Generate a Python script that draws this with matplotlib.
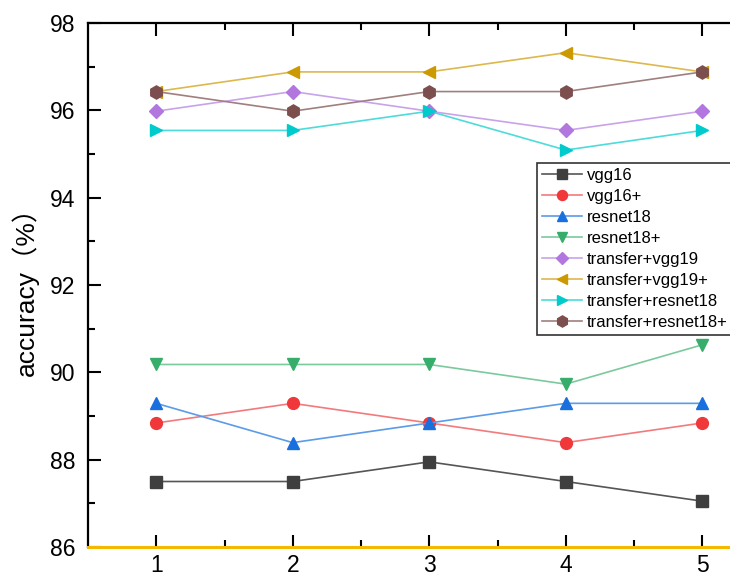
import numpy as np
import matplotlib
matplotlib.use("Agg")
import matplotlib.pyplot as plt

plt.rcParams['font.family'] = ['Liberation Sans', 'Noto Sans CJK SC', 'DejaVu Sans']

epochs = [1, 2, 3, 4, 5]
vgg16 = [87.50, 87.50, 87.95, 87.50, 87.05]
vgg16_plus = [88.84, 89.29, 88.84, 88.39, 88.84]
resnet18 = [89.29, 88.39, 88.84, 89.29, 89.29]
resnet18_plus = [90.18, 90.18, 90.18, 89.73, 90.63]
tr_vgg19 = [95.98, 96.43, 95.98, 95.54, 95.98]
tr_vgg19_plus = [96.43, 96.88, 96.88, 97.32, 96.88]
tr_resnet18 = [95.54, 95.54, 95.98, 95.09, 95.54]
tr_resnet18_plus = [96.43, 95.98, 96.43, 96.43, 96.88]

series = [
    ('vgg16', vgg16, 's', '#3f3f3f', '#555555'),
    ('vgg16+', vgg16_plus, 'o', '#f0373a', '#f27a7c'),
    ('resnet18', resnet18, '^', '#1a6fdf', '#5b9be8'),
    ('resnet18+', resnet18_plus, 'v', '#37ad6b', '#7cc99d'),
    ('transfer+vgg19', tr_vgg19, 'D', '#b177de', '#c9a3ea'),
    ('transfer+vgg19+', tr_vgg19_plus, '<', '#cc9900', '#ddb84d'),
    ('transfer+resnet18', tr_resnet18, '>', '#00cbcc', '#4ddbdb'),
    ('transfer+resnet18+', tr_resnet18_plus, 'h', '#7d4e4e', '#a07f7f'),
]
sizes = {'s': 8, 'o': 8.5, '^': 9, 'v': 9, 'D': 7.5, '<': 9, '>': 9, 'h': 9.5}

fig = plt.figure(figsize=(7.3, 5.76), dpi=100)
ax = fig.add_axes([88 / 730, 29 / 576, 682.5 / 730, 524 / 576])

for name, vals, mk, mc, lc in series:
    ax.plot(epochs, vals, color=lc, lw=1.2, marker=mk, ms=sizes[mk],
            markerfacecolor=mc, markeredgecolor=mc, label=name)

ax.set_xlim(0.5, 5.5)
ax.set_ylim(86, 98)
ax.set_xticks(epochs)
ax.set_xticks([1.5, 2.5, 3.5, 4.5], minor=True)
ax.set_yticks(np.arange(86, 99, 2))
ax.set_yticks(np.arange(87, 98, 2), minor=True)
ax.tick_params(which='major', direction='in', length=9, width=1.5, labelsize=16.5,
               top=True, right=False)
ax.tick_params(which='minor', direction='in', length=5, width=1.5, top=True, right=False)
ax.tick_params(axis='x', pad=5)
ax.tick_params(axis='y', pad=9)
# bottom ticks sit on the orange axis line
for t in ax.xaxis.get_major_ticks() + ax.xaxis.get_minor_ticks():
    t.tick1line.set_color('#6b5200')

ax.spines['right'].set_visible(False)
ax.spines['left'].set_linewidth(1.6)
ax.spines['top'].set_linewidth(1.6)
ax.spines['bottom'].set_linewidth(2.2)
ax.spines['bottom'].set_color('#f5b800')

ax.set_ylabel('accuracy（%）', fontsize=19)
ax.yaxis.set_label_coords(-0.072, 0.5)

leg = ax.legend(loc='upper left', bbox_to_anchor=(537 / 730, 1 - 163 / 576),
                bbox_transform=fig.transFigure, fontsize=12, frameon=True,
                fancybox=False, edgecolor='#333333', framealpha=1,
                handlelength=2.4, handletextpad=0.3, labelspacing=0.36,
                borderpad=0.3, borderaxespad=0, markerscale=0.85)
leg.get_frame().set_linewidth(1.2)

fig.savefig('out.png', dpi=100)
